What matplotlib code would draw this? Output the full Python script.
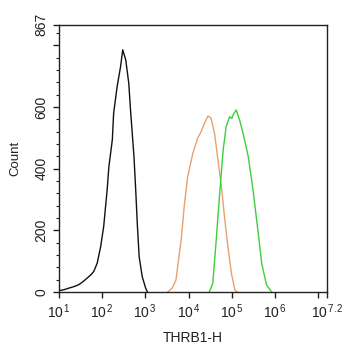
import matplotlib.pyplot as plt
import numpy as np

plt.rcParams['font.family'] = ['Liberation Sans', 'DejaVu Sans']
plt.rcParams['mathtext.fontset'] = 'custom'
plt.rcParams['mathtext.rm'] = 'Liberation Sans'
plt.rcParams['mathtext.it'] = 'Liberation Sans'

# histogram outlines, x as log10(THRB1-H), y as count
black_log = [1.0, 1.12, 1.23, 1.35, 1.46, 1.56, 1.66, 1.74, 1.81, 1.89, 1.97, 2.04, 2.12,
             2.16, 2.24, 2.27, 2.35, 2.43, 2.48, 2.55, 2.62, 2.66, 2.74, 2.78, 2.82,
             2.86, 2.93, 3.01, 3.05]
black_cnt = [4, 7, 12, 17, 23, 33, 45, 55, 66, 93, 147, 212, 331,
             406, 494, 580, 666, 731, 786, 753, 677, 591, 439, 331, 212,
             114, 50, 12, 0]

orange_log = [3.52, 3.62, 3.71, 3.83, 3.90, 3.98, 4.10, 4.21, 4.29, 4.37, 4.45, 4.52,
              4.60, 4.68, 4.76, 4.83, 4.91, 4.99, 5.07, 5.12]
orange_cnt = [0, 12, 39, 169, 277, 374, 450, 499, 520, 548, 571, 564,
              515, 429, 342, 245, 147, 61, 6, 0]

green_log = [4.48, 4.56, 4.64, 4.72, 4.80, 4.87, 4.95, 5.00, 5.03, 5.10, 5.18, 5.26,
             5.38, 5.49, 5.61, 5.69, 5.80, 5.92]
green_cnt = [0, 28, 169, 320, 461, 537, 569, 563, 575, 591, 558, 515,
             439, 331, 191, 93, 23, 0]

x_exp = [1, 2, 3, 4, 5, 6]
y_ticks = [0, 200, 400, 600, 800, 867]
y_labels = ['0', '200', '400', '600', '', '867']

fig = plt.figure(figsize=(3.45, 3.5), dpi=100)
ax = fig.add_axes([0.17, 0.166, 0.778, 0.763])

ax.plot(10 ** np.array(black_log), black_cnt, color='#111111', lw=1.0)
ax.plot(10 ** np.array(orange_log), orange_cnt, color='#e8a070', lw=1.0)
ax.plot(10 ** np.array(green_log), green_cnt, color='#3ccf3c', lw=1.0)

ax.set_xscale('log')
ax.set_xlim(10, 10 ** 7.2)
ax.set_ylim(0, 867)

xt = [10.0 ** e for e in x_exp] + [1e7, 10 ** 7.2]
xl = ['$10^{\\,%d}$' % e for e in x_exp] + ['', '$10^{\\,7.2}$']
ax.set_xticks(xt)
ax.set_xticklabels(xl, fontsize=10, color='#222222')
ax.set_yticks(y_ticks)
ax.set_yticklabels(y_labels, fontsize=10, rotation=90, va='center', color='#222222')
ax.set_yticks(np.arange(40, 867, 40), minor=True)

ax.tick_params(which='major', length=4, width=1, color='#222222')
ax.tick_params(which='minor', length=2.5, width=0.8, color='#222222')
ax.tick_params(axis='x', which='minor', labelbottom=False)
for s in ax.spines.values():
    s.set_linewidth(1.0)
    s.set_color('#222222')

ax.set_xlabel('THRB1-H', fontsize=10, color='#222222', labelpad=7)
ax.set_ylabel('Count', fontsize=9.5, color='#222222', labelpad=9)

fig.savefig('out.png', dpi=100)
